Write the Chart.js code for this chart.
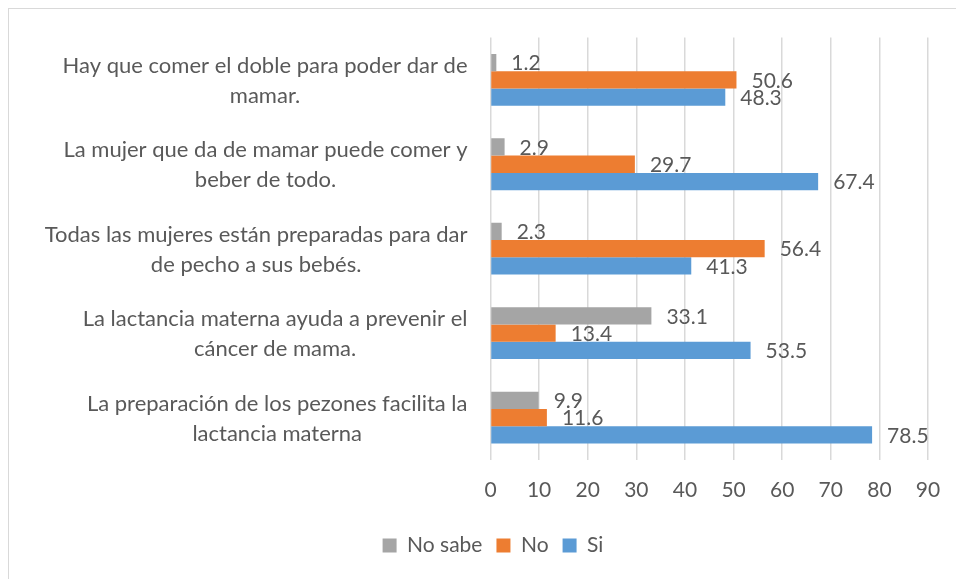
<!DOCTYPE html>
<html><head><meta charset="utf-8">
<script src="https://cdn.jsdelivr.net/npm/chart.js@4"></script>
<style>
html,body{margin:0;padding:0;background:#fff;overflow:hidden;width:956px;height:579px;}
#frame{position:absolute;left:8px;top:8px;width:968px;height:600px;border:1px solid #d9d9d9;background:#fff;}
canvas{display:block;}
</style></head><body>
<div id="frame"><canvas id="c" width="968" height="600"></canvas></div>
<script>
const categories = [
  ["Hay que comer el doble para poder dar de", "mamar."],
  ["La mujer que da de mamar puede comer y", "beber de todo."],
  ["Todas las mujeres están preparadas para dar", "de pecho a sus bebés."],
  ["La lactancia materna ayuda a prevenir el", "cáncer de mama."],
  ["La preparación de los pezones facilita la", "lactancia materna"]
];
const seriesNames = ["No sabe", "No", "Si"];
const noSabe = [1.2, 2.9, 2.3, 33.1, 9.9];
const no = [50.6, 29.7, 56.4, 13.4, 11.6];
const si = [48.3, 67.4, 41.3, 53.5, 78.5];
const xTicks = [0, 10, 20, 30, 40, 50, 60, 70, 80, 90];

const FONT = 'Lato';
const FS = 21;
const CFS = 22;
const TXT = '#595959';

const catLabelPlugin = {
  id: 'catLabels',
  afterDraw(chart) {
    const ctx = chart.ctx, ys = chart.scales.y;
    ctx.save();
    ctx.font = CFS + 'px ' + FONT;
    ctx.fillStyle = TXT;
    ctx.textAlign = 'center';
    ctx.textBaseline = 'alphabetic';
    const right = chart.chartArea.left - 23;
    categories.forEach((lines, i) => {
      const cy = ys.getPixelForValue(i);
      const w = Math.max(...lines.map(l => ctx.measureText(l).width));
      const cx = right - w / 2;
      lines.forEach((l, j) => ctx.fillText(l, cx, cy - 7 + j * 30));
    });
    ctx.restore();
  }
};

const valueLabelPlugin = {
  id: 'valueLabels',
  afterDatasetsDraw(chart) {
    const ctx = chart.ctx;
    ctx.save();
    ctx.font = FS + 'px ' + FONT;
    ctx.fillStyle = TXT;
    ctx.textAlign = 'left';
    ctx.textBaseline = 'middle';
    chart.data.datasets.forEach((ds, di) => {
      const meta = chart.getDatasetMeta(di);
      meta.data.forEach((bar, i) => {
        ctx.fillText(ds.data[i].toFixed(1), bar.x + 15, bar.y + 1);
      });
    });
    ctx.restore();
  }
};

function build() {
  new Chart(document.getElementById('c'), {
    type: 'bar',
    data: {
      labels: categories.map(c => c.join(' ')),
      datasets: [
        { label: seriesNames[0], data: noSabe, backgroundColor: '#A5A5A5' },
        { label: seriesNames[1], data: no, backgroundColor: '#ED7D31' },
        { label: seriesNames[2], data: si, backgroundColor: '#5B9BD5' }
      ]
    },
    options: {
      indexAxis: 'y',
      responsive: false,
      animation: false,
      events: [],
      datasets: { bar: { categoryPercentage: 0.614, barPercentage: 1.0 } },
      layout: { padding: { left: 0, top: 28.6, right: 0, bottom: 43 } },
      scales: {
        x: {
          min: 0, max: 90,
          afterBuildTicks(s) { s.ticks = xTicks.map(v => ({ value: v })); },
          grid: { color: '#d9d9d9', lineWidth: 1.5, drawTicks: false },
          border: { display: false },
          ticks: { color: TXT, font: { family: FONT, size: FS }, padding: 18 }
        },
        y: {
          grid: { display: false },
          border: { display: false },
          ticks: { display: false },
          afterFit(s) { s.width = 481.5; }
        },
        yRight: {
          type: 'category',
          position: 'right',
          grid: { display: false },
          border: { display: false },
          ticks: { display: false },
          afterFit(s) { s.width = 49; }
        }
      },
      plugins: {
        legend: {
          position: 'bottom',
          labels: { boxWidth: 14, boxHeight: 14, padding: 14, color: TXT, font: { family: FONT, size: FS } }
        },
        tooltip: { enabled: false }
      }
    },
    plugins: [catLabelPlugin, valueLabelPlugin]
  });
}
document.fonts.load(FS + 'px ' + FONT).then(build, build);
</script>
</body></html>
